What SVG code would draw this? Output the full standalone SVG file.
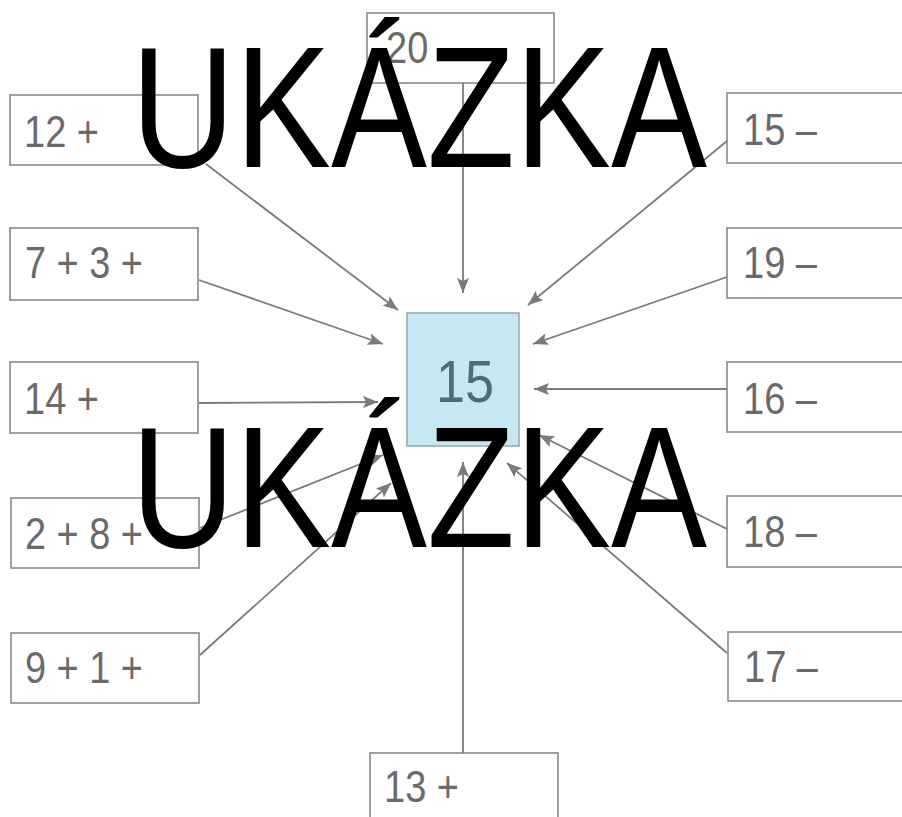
<svg xmlns="http://www.w3.org/2000/svg" width="902" height="817" viewBox="0 0 902 817">
<style>
.box{fill:#fff;stroke:#8a8a8a;stroke-width:1.6}
.lbl{font-family:"Liberation Sans",Arial,sans-serif;font-size:44px;fill:#6a6a6a}
.conn line{stroke:#7a7a7a;stroke-width:1.8;fill:none}
.wm{font-family:"Liberation Sans",Arial,sans-serif;font-size:173px;fill:#000}
</style>
<defs>
<marker id="ah" markerUnits="userSpaceOnUse" markerWidth="16" markerHeight="12" refX="15" refY="6" orient="auto">
<path d="M0,0 L15,6 L0,12 L3,6 z" fill="#7a7a7a"/>
</marker>
</defs>
<rect width="902" height="817" fill="#fff"/>
<g id="n-center">
<rect x="407" y="313" width="112" height="133" fill="#c5e8f2" stroke="#97abb3" stroke-width="1.6"/>
<text x="465" y="402" text-anchor="middle" font-family="Liberation Sans, Arial, sans-serif" font-size="60" fill="#4e6c78" textLength="58" lengthAdjust="spacingAndGlyphs">15</text>
</g>
<g id="n-20"><rect class="box" x="367" y="13" width="187" height="70"/><text class="lbl" x="386" y="63" textLength="74" lengthAdjust="spacingAndGlyphs">20 –</text></g>
<g id="n-12"><rect class="box" x="10" y="95" width="188" height="70"/><text class="lbl" x="24" y="147" textLength="75" lengthAdjust="spacingAndGlyphs">12 +</text></g>
<g id="n-7-3"><rect class="box" x="10" y="228" width="188" height="72"/><text class="lbl" x="25" y="278" textLength="118" lengthAdjust="spacingAndGlyphs">7 + 3 +</text></g>
<g id="n-14"><rect class="box" x="10" y="362" width="188" height="71"/><text class="lbl" x="24" y="414" textLength="75" lengthAdjust="spacingAndGlyphs">14 +</text></g>
<g id="n-2-8"><rect class="box" x="11" y="498" width="188" height="70"/><text class="lbl" x="25" y="549" textLength="118" lengthAdjust="spacingAndGlyphs">2 + 8 +</text></g>
<g id="n-9-1"><rect class="box" x="11" y="633" width="188" height="70"/><text class="lbl" x="25" y="683" textLength="118" lengthAdjust="spacingAndGlyphs">9 + 1 +</text></g>
<g id="n-15"><rect class="box" x="727" y="93" width="190" height="70"/><text class="lbl" x="743" y="145" textLength="74" lengthAdjust="spacingAndGlyphs">15 –</text></g>
<g id="n-19"><rect class="box" x="727" y="228" width="190" height="70"/><text class="lbl" x="743" y="278" textLength="74" lengthAdjust="spacingAndGlyphs">19 –</text></g>
<g id="n-16"><rect class="box" x="727" y="362" width="190" height="70"/><text class="lbl" x="743" y="414" textLength="74" lengthAdjust="spacingAndGlyphs">16 –</text></g>
<g id="n-18"><rect class="box" x="727" y="496" width="190" height="71"/><text class="lbl" x="743" y="547" textLength="74" lengthAdjust="spacingAndGlyphs">18 –</text></g>
<g id="n-17"><rect class="box" x="728" y="632" width="190" height="69"/><text class="lbl" x="744" y="682" textLength="74" lengthAdjust="spacingAndGlyphs">17 –</text></g>
<g id="n-13"><rect class="box" x="370" y="753" width="188" height="80"/><text class="lbl" x="384" y="802" textLength="75" lengthAdjust="spacingAndGlyphs">13 +</text></g>
<g id="connectors" class="conn">
<line x1="463" y1="83" x2="463" y2="293" marker-end="url(#ah)"/>
<line x1="206" y1="164" x2="398" y2="310" marker-end="url(#ah)"/>
<line x1="199" y1="280" x2="383" y2="344" marker-end="url(#ah)"/>
<line x1="199" y1="403" x2="378" y2="402" marker-end="url(#ah)"/>
<line x1="200" y1="528" x2="383" y2="455" marker-end="url(#ah)"/>
<line x1="200" y1="655" x2="391" y2="483" marker-end="url(#ah)"/>
<line x1="463" y1="753" x2="463" y2="462" marker-end="url(#ah)"/>
<line x1="727" y1="141" x2="528" y2="305" marker-end="url(#ah)"/>
<line x1="727" y1="277" x2="533" y2="344" marker-end="url(#ah)"/>
<line x1="727" y1="389" x2="534" y2="389" marker-end="url(#ah)"/>
<line x1="727" y1="529" x2="539" y2="435" marker-end="url(#ah)"/>
<line x1="727" y1="653" x2="507" y2="463" marker-end="url(#ah)"/>
</g>
<text class="wm" x="131" y="167" textLength="576" lengthAdjust="spacingAndGlyphs">UKÁZKA</text>
<text class="wm" x="131" y="547" textLength="576" lengthAdjust="spacingAndGlyphs">UKÁZKA</text>
</svg>
